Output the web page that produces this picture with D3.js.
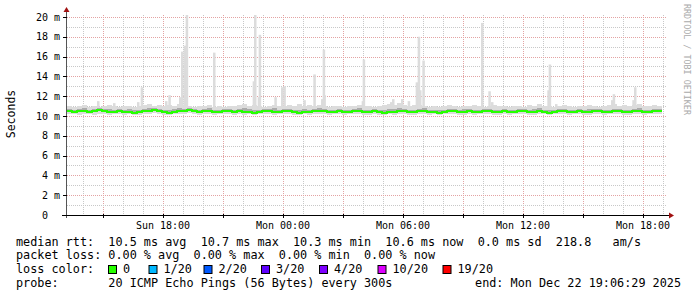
<!DOCTYPE html>
<html>
<head>
<meta charset="utf-8">
<script src="https://cdn.jsdelivr.net/npm/d3@7/dist/d3.min.js"></script>
<style>
  body { margin: 0; background: #fff; }
  text { font-family: "DejaVu Sans Mono", monospace; }
</style>
</head>
<body>
<script>
var width = 697;
var height = 297;
var plotLeft = 67, plotRight = 667, plotTop = 15, plotBottom = 215;

// 15 minute buckets starting Sun 13:12
var startTime = '2025-12-21 13:12';
var endTime = '2025-12-22 19:12';
var stepMinutes = 15;

var median = [
  10.5,10.4,10.5,10.5,10.4,10.5,10.6,10.5,10.4,10.4,
  10.5,10.4,10.4,10.3,10.4,10.5,10.5,10.6,10.5,10.4,
  10.3,10.4,10.5,10.5,10.6,10.5,10.4,10.5,10.5,10.4,
  10.4,10.5,10.5,10.4,10.5,10.4,10.4,10.3,10.4,10.5,
  10.5,10.4,10.4,10.5,10.5,10.4,10.3,10.4,10.4,10.5,
  10.5,10.5,10.4,10.4,10.5,10.4,10.4,10.5,10.5,10.4,
  10.4,10.5,10.4,10.3,10.4,10.4,10.5,10.5,10.4,10.4,
  10.5,10.5,10.4,10.4,10.3,10.4,10.5,10.5,10.4,10.4,
  10.5,10.4,10.4,10.5,10.5,10.4,10.4,10.5,10.4,10.4,
  10.5,10.5,10.4,10.4,10.5,10.4,10.3,10.4,10.5,10.5,
  10.4,10.4,10.5,10.4,10.4,10.5,10.5,10.4,10.4,10.5,
  10.5,10.4,10.4,10.5,10.5,10.4,10.4,10.5,10.5
];

var smokeHi = [
  11.0,10.9,11.0,11.1,10.9,11.0,10.9,11.0,11.1,11.0,
  10.9,11.0,11.0,10.9,11.0,11.1,11.2,11.0,11.1,11.0,
  11.1,11.0,11.2,11.1,11.0,10.9,11.0,11.0,11.1,10.9,
  11.0,10.9,11.0,11.0,11.1,11.2,11.0,11.1,11.0,10.9,
  11.0,11.1,11.0,11.0,11.1,11.0,11.2,11.0,11.1,11.0,
  11.1,11.0,10.9,11.0,11.0,10.9,11.0,11.0,11.1,11.0,
  11.0,10.9,11.0,11.1,11.2,11.1,11.3,11.1,11.0,11.1,
  11.1,11.0,10.9,11.0,10.9,11.0,11.1,11.0,10.9,11.0,
  11.0,11.1,11.0,10.9,11.0,11.1,11.0,11.0,10.9,11.0,
  11.0,10.9,11.1,11.0,11.2,11.0,11.0,10.9,11.0,11.1,
  11.0,10.9,11.0,11.0,11.1,11.0,10.9,11.0,11.1,11.2,
  11.0,11.1,11.0,11.1,11.2,11.0,11.0,11.1,11.0
];

var midHi = [
  10.7,10.6,10.7,10.8,10.6,10.7,10.8,10.7,10.7,10.6,
  10.7,10.6,10.7,10.6,10.6,10.7,10.8,10.8,10.7,10.6,
  10.6,10.7,10.8,10.7,10.8,10.7,10.6,10.7,10.8,10.6,
  10.6,10.7,10.7,10.6,10.7,10.8,10.7,10.6,10.6,10.7,
  10.7,10.8,10.6,10.7,10.7,10.6,10.6,10.7,10.6,10.7,
  10.8,10.7,10.6,10.6,10.7,10.6,10.6,10.7,10.8,10.6,
  10.6,10.7,10.6,10.6,10.7,10.7,10.8,10.7,10.6,10.6,
  10.7,10.8,10.6,10.6,10.6,10.6,10.7,10.7,10.6,10.7,
  10.7,10.6,10.6,10.7,10.7,10.6,10.6,10.7,10.6,10.6,
  10.7,10.7,10.6,10.7,10.8,10.6,10.6,10.6,10.7,10.7,
  10.6,10.6,10.7,10.6,10.7,10.7,10.7,10.6,10.6,10.7,
  10.7,10.6,10.6,10.7,10.8,10.6,10.6,10.7,10.7
];

var smokeLo = [
  10.2,10.2,10.1,10.2,10.2,10.1,10.2,10.2,10.1,10.2,
  10.2,10.1,10.2,10.1,10.1,10.2,10.2,10.3,10.2,10.1,
  10.1,10.2,10.2,10.2,10.3,10.2,10.1,10.2,10.2,10.1,
  10.2,10.2,10.2,10.1,10.2,10.1,10.2,10.1,10.2,10.2,
  10.2,10.1,10.2,10.2,10.2,10.1,10.1,10.2,10.1,10.2,
  10.2,10.2,10.1,10.2,10.2,10.1,10.2,10.2,10.2,10.1,
  10.1,10.2,10.1,10.1,10.2,10.1,10.2,10.2,10.1,10.1,
  10.2,10.2,10.1,10.2,10.1,10.2,10.2,10.2,10.1,10.1,
  10.2,10.1,10.2,10.2,10.2,10.1,10.1,10.2,10.1,10.2,
  10.2,10.2,10.1,10.1,10.2,10.2,10.1,10.2,10.2,10.2,
  10.1,10.2,10.2,10.1,10.1,10.2,10.2,10.1,10.2,10.2,
  10.2,10.1,10.1,10.2,10.2,10.1,10.2,10.2,10.2
];

// single tall pings (max of the 20)
var spikes = [
  ['2025-12-21 14:42', 11.5], ['2025-12-21 15:30', 11.3], ['2025-12-21 16:42', 11.4],
  ['2025-12-21 16:53', 12.9], ['2025-12-21 18:06', 11.5], ['2025-12-21 18:16', 12.1],
  ['2025-12-21 18:48', 11.9], ['2025-12-21 18:54', 16.5], ['2025-12-21 19:02', 17.1],
  ['2025-12-21 19:08', 20.2], ['2025-12-21 20:30', 16.4], ['2025-12-21 22:00', 11.2],
  ['2025-12-21 22:29', 13.5], ['2025-12-21 22:33', 20.2], ['2025-12-21 22:44', 11.9],
  ['2025-12-21 22:47', 18.2], ['2025-12-21 23:34', 11.9], ['2025-12-21 23:54', 12.9],
  ['2025-12-22 00:01', 13.0], ['2025-12-22 01:01', 11.6], ['2025-12-22 01:31', 14.2],
  ['2025-12-22 01:54', 11.7], ['2025-12-22 01:59', 16.7], ['2025-12-22 02:01', 12.1],
  ['2025-12-22 03:56', 11.5], ['2025-12-22 03:59', 15.7], ['2025-12-22 05:21', 11.4],
  ['2025-12-22 05:27', 11.7], ['2025-12-22 05:54', 11.7], ['2025-12-22 06:14', 11.5],
  ['2025-12-22 06:38', 13.4], ['2025-12-22 06:44', 18.0], ['2025-12-22 06:48', 12.6],
  ['2025-12-22 06:58', 15.6], ['2025-12-22 09:54', 19.4], ['2025-12-22 10:16', 12.5],
  ['2025-12-22 10:24', 11.4], ['2025-12-22 13:13', 12.6], ['2025-12-22 13:17', 15.2],
  ['2025-12-22 13:36', 11.2], ['2025-12-22 16:24', 11.6], ['2025-12-22 16:29', 12.2],
  ['2025-12-22 17:28', 11.6], ['2025-12-22 17:33', 12.9]
];

var yTicks = [0, 2, 4, 6, 8, 10, 12, 14, 16, 18, 20];

var lossLabels = ['0', '1/20', '2/20', '3/20', '4/20', '10/20', '19/20'];
var lossColors = ['#26ff00', '#00b8ff', '#0059ff', '#5e00ff', '#7e00ff', '#dd00ff', '#ff0000'];

var statLines = [
  'median rtt:  10.5 ms avg  10.7 ms max  10.3 ms min  10.6 ms now  0.0 ms sd  218.8   am/s',
  'packet loss: 0.00 % avg  0.00 % max  0.00 % min  0.00 % now',
  'loss color:',
  'probe:       20 ICMP Echo Pings (56 Bytes) every 300s'
];
var endLabel = 'end: Mon Dec 22 19:06:29 2025';

var parse = d3.timeParse('%Y-%m-%d %H:%M');
var t0 = parse(startTime);

var svg = d3.select('body')
  .append('svg')
  .attr('width', width)
  .attr('height', height);

var xScale = d3.scaleTime()
  .domain([t0, parse(endTime)])
  .range([plotLeft, plotRight]);

var yScale = d3.scaleLinear()
  .domain([0, 20.2])
  .range([plotBottom, plotTop]);

// grid
var hours = d3.timeHour.range(xScale.domain()[0], xScale.domain()[1]);
svg.append('g').selectAll('line')
  .data(hours)
  .enter()
  .append('line')
  .attr('x1', function(d) { return Math.round(xScale(d)) + 0.5; })
  .attr('x2', function(d) { return Math.round(xScale(d)) + 0.5; })
  .attr('y1', plotTop)
  .attr('y2', plotBottom)
  .attr('stroke', function(d) { return d.getHours() % 3 === 0 ? '#e3a3a3' : '#c8c8c8'; })
  .attr('stroke-dasharray', '1,1');

svg.append('g').selectAll('line')
  .data(d3.range(1, 21))
  .enter()
  .append('line')
  .attr('x1', plotLeft)
  .attr('x2', plotRight)
  .attr('y1', function(d) { return Math.round(yScale(d)) + 0.5; })
  .attr('y2', function(d) { return Math.round(yScale(d)) + 0.5; })
  .attr('stroke', function(d) { return d % 2 === 0 ? '#e3a3a3' : '#c8c8c8'; })
  .attr('stroke-dasharray', '1,1');

// smoke
var rows = median.map(function(m, i) {
  return { t: d3.timeMinute.offset(t0, i * stepMinutes), med: m, hi: smokeHi[i], mid: midHi[i], lo: smokeLo[i] };
});
var last = rows[rows.length - 1];
rows.push({ t: d3.timeMinute.offset(t0, rows.length * stepMinutes), med: last.med, hi: last.hi, mid: last.mid, lo: last.lo });

svg.append('path')
  .datum(rows)
  .attr('fill', '#dcdcdc')
  .attr('d', d3.area().curve(d3.curveStepAfter)
    .x(function(d) { return xScale(d.t); })
    .y0(function(d) { return yScale(d.lo); })
    .y1(function(d) { return yScale(d.hi); }));

svg.append('g').selectAll('rect')
  .data(spikes)
  .enter()
  .append('rect')
  .attr('x', function(d) { return xScale(parse(d[0])); })
  .attr('width', function(d) { return xScale(d3.timeSecond.offset(parse(d[0]), 450)) - xScale(parse(d[0])); })
  .attr('y', function(d) { return yScale(d[1]); })
  .attr('height', function(d) { return yScale(10.6) - yScale(d[1]); })
  .attr('fill', '#dcdcdc');

svg.append('path')
  .datum(rows)
  .attr('fill', '#ababab')
  .attr('d', d3.area().curve(d3.curveStepAfter)
    .x(function(d) { return xScale(d.t); })
    .y0(function(d) { return yScale(d.med); })
    .y1(function(d) { return yScale(d.mid); }));

svg.append('path')
  .datum(rows)
  .attr('fill', 'none')
  .attr('stroke', lossColors[0])
  .attr('stroke-width', 2)
  .attr('d', d3.line().curve(d3.curveStepAfter)
    .x(function(d) { return xScale(d.t); })
    .y(function(d) { return yScale(d.med); }));

// axes
var axisRed = '#a01010';
svg.append('line')
  .attr('x1', 62).attr('x2', 669)
  .attr('y1', plotBottom + 0.5).attr('y2', plotBottom + 0.5)
  .attr('stroke', '#000');
svg.append('path')
  .attr('d', 'M669,' + (plotBottom - 2.5) + 'L674,' + (plotBottom + 0.5) + 'L669,' + (plotBottom + 3.5) + 'Z')
  .attr('fill', axisRed);
svg.append('line')
  .attr('x1', plotLeft - 0.5).attr('x2', plotLeft - 0.5)
  .attr('y1', plotBottom + 3).attr('y2', 12)
  .attr('stroke', '#555');
svg.append('path')
  .attr('d', 'M' + (plotLeft - 3.5) + ',12L' + (plotLeft - 0.5) + ',7L' + (plotLeft + 2.5) + ',12Z')
  .attr('fill', axisRed);

svg.append('g').selectAll('line')
  .data(hours.filter(function(d) { return d.getHours() % 3 === 0; }))
  .enter()
  .append('line')
  .attr('x1', function(d) { return Math.round(xScale(d)) + 0.5; })
  .attr('x2', function(d) { return Math.round(xScale(d)) + 0.5; })
  .attr('y1', plotBottom - 1)
  .attr('y2', plotBottom + 3)
  .attr('stroke', '#000');

svg.append('g').selectAll('line')
  .data(yTicks)
  .enter()
  .append('line')
  .attr('x1', plotLeft - 4)
  .attr('x2', plotLeft)
  .attr('y1', function(d) { return Math.round(yScale(d)) + 0.5; })
  .attr('y2', function(d) { return Math.round(yScale(d)) + 0.5; })
  .attr('stroke', '#000');

svg.append('g').selectAll('text')
  .data(yTicks)
  .enter()
  .append('text')
  .attr('x', 60)
  .attr('y', function(d) { return yScale(d) + 3.6; })
  .attr('text-anchor', 'end')
  .attr('font-size', '10px')
  .attr('fill', '#000')
  .style('white-space', 'pre')
  .text(function(d) { return d === 0 ? '0\u00a0\u00a0' : d + ' m'; });

svg.append('g').selectAll('text')
  .data(hours.filter(function(d) { return d.getHours() % 6 === 0; }))
  .enter()
  .append('text')
  .attr('x', function(d) { return xScale(d); })
  .attr('y', 228.5)
  .attr('text-anchor', 'middle')
  .attr('font-size', '10px')
  .text(d3.timeFormat('%a %H:%M'));

svg.append('text')
  .attr('transform', 'translate(14.5,114) rotate(-90)')
  .attr('text-anchor', 'middle')
  .attr('font-size', '11.5px')
  .text('Seconds');

svg.append('text')
  .attr('transform', 'translate(683.5,4) rotate(90)')
  .attr('font-size', '8.4px')
  .attr('fill', '#aaaaaa')
  .text('RRDTOOL / TOBI OETIKER');

// legend
var lineY = [245.7, 259, 273.3, 286.7];
svg.append('g').selectAll('text')
  .data(statLines)
  .enter()
  .append('text')
  .attr('x', 16)
  .attr('y', function(d, i) { return lineY[i]; })
  .attr('font-size', '11.8px')
  .style('white-space', 'pre')
  .text(function(d) { return d; });

svg.append('text')
  .attr('x', 681)
  .attr('y', lineY[3])
  .attr('text-anchor', 'end')
  .attr('font-size', '11.8px')
  .text(endLabel);

var boxX = [108, 148.5, 203.5, 261, 319, 377.5, 442.5];
var key = svg.append('g').selectAll('g')
  .data(lossLabels)
  .enter()
  .append('g')
  .attr('transform', function(d, i) { return 'translate(' + boxX[i] + ',' + (lineY[2] - 8.3) + ')'; });
key.append('rect')
  .attr('x', 0.5).attr('y', 0.5)
  .attr('width', 8).attr('height', 8)
  .attr('fill', function(d, i) { return lossColors[i]; })
  .attr('stroke', '#000');
key.append('text')
  .attr('x', 15)
  .attr('y', 8.3)
  .attr('font-size', '11.8px')
  .text(function(d) { return d; });
</script>
</body>
</html>
